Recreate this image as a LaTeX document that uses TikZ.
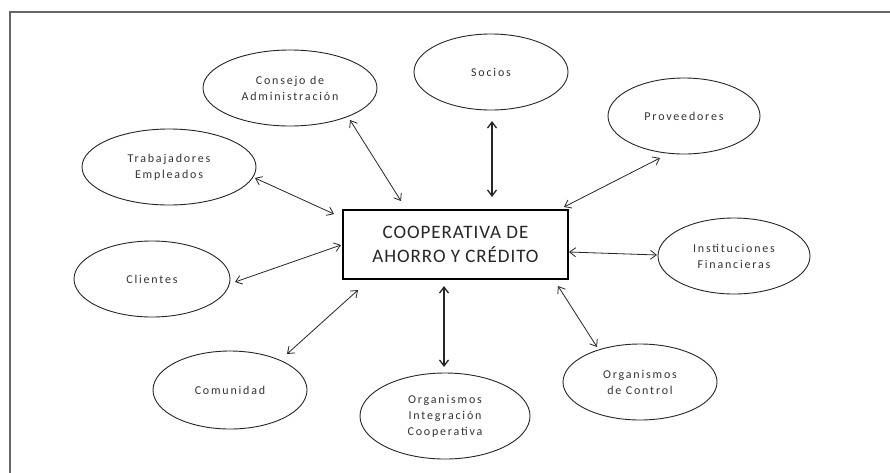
\documentclass[tikz,border=0pt]{standalone}
\usepackage{fontspec}
\setmainfont{Carlito}
\usetikzlibrary{shapes.geometric,arrows.meta,calc}
\begin{document}
\begin{tikzpicture}[x=1pt,y=-1pt,
  ell/.style={ellipse,draw=black!85,line width=0.9pt,inner sep=0pt,align=center,
    font=\fontsize{12}{16}\selectfont\addfontfeatures{LetterSpace=15},text=black!80},
  hub/.style={rectangle,draw=black,line width=2pt,inner sep=0pt,align=center,
    minimum width=225pt,minimum height=69pt,
    font=\fontsize{19}{24}\selectfont\addfontfeatures{LetterSpace=5},text=black!85},
  link/.style={{Straight Barb[length=6pt,width=9pt]}-{Straight Barb[length=6pt,width=9pt]},line width=0.8pt,draw=black!85},
  thick link/.style={link,line width=1.3pt}]
\useasboundingbox (0,0) rectangle (890,472);
\clip (0,0) rectangle (890,472);
\fill[white] (0,0) rectangle (890,472);
\draw[gray!80!black,line width=1.5pt] (10,495) -- (10,12) -- (900,12);

\node[hub] (box) at (455.5,244.5) {COOPERATIVA DE\\AHORRO Y CRÉDITO};

\node[ell,minimum width=174pt,minimum height=76pt] (cons) at (290,88) {Consejo de\\Administración};
\node[ell,minimum width=154pt,minimum height=76pt] (soc) at (491,72) {Socios};
\node[ell,minimum width=152pt,minimum height=76pt] (prov) at (684,116) {Proveedores};
\node[ell,minimum width=174pt,minimum height=76pt] (trab) at (169,167) {Trabajadores\\Empleados};
\node[ell,minimum width=152pt,minimum height=76pt] (inst) at (734,256) {Instituciones\\Financieras};
\node[ell,minimum width=156pt,minimum height=76pt] (cli) at (152,279) {Clientes};
\node[ell,minimum width=154pt,minimum height=78pt] (com) at (230,390) {Comunidad};
\node[ell,minimum width=170pt,minimum height=86pt] (integ) at (445,416) {Organismos\\Integración\\Cooperativa};
\node[ell,minimum width=154pt,minimum height=76pt] (ctrl) at (640,382) {Organismos\\de Control};

\draw[link] ($(cons)+(60,32)$) -- ($(box.north west)+(59,-8)$);
\draw[thick link] ($(soc)+(1,49)$) -- ($(box.north)+(36.5,-12)$);
\draw[link] ($(prov)+(-24,42)$) -- ($(box.north east)+(-5,-2)$);
\draw[link] ($(trab)+(86,11)$) -- ($(box.north west)+(-8,5)$);
\draw[link] ($(cli)+(83,3)$) -- ($(box.west)+(-1,0.5)$);
\draw[link] ($(com)+(57,-36)$) -- ($(box.south west)+(16,10)$);
\draw[thick link] ($(integ)+(-1,-49)$) -- ($(box.south)+(-11.5,6)$);
\draw[link] ($(ctrl)+(-43,-35)$) -- ($(box.south east)+(-11,6)$);
\draw[link] ($(inst)+(-77,-1)$) -- ($(box.east)+(0,7.5)$);
\end{tikzpicture}
\end{document}
